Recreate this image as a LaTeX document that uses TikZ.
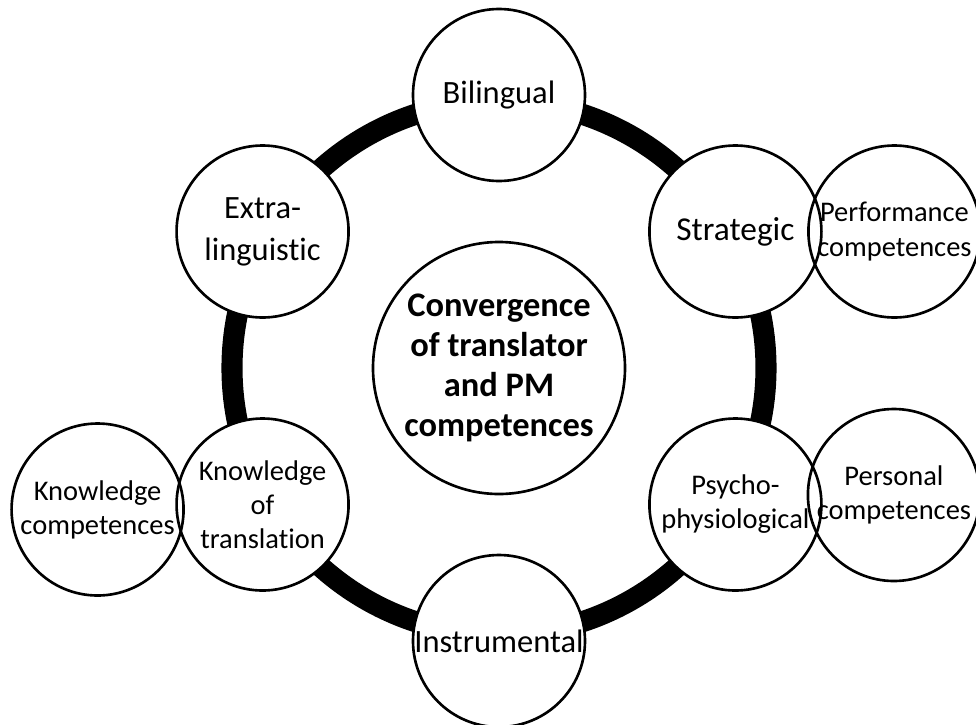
\documentclass[tikz,border=0pt]{standalone}
\usepackage{fontspec}
\setmainfont{Carlito}[Ligatures={NoCommon,NoContextual}]
\usetikzlibrary{positioning}

\begin{document}
\begin{tikzpicture}[
    anillo/.style={line width=12pt},
    comp/.style={circle, draw, line width=1.5pt, fill=white, inner sep=0pt, outer sep=0pt,
                 minimum size=3.44cm, align=center, font=\fontsize{18.5pt}{24pt}\selectfont},
    compchica/.style={comp, font=\fontsize{16.2pt}{19.4pt}\selectfont},
    externa/.style={compchica, fill=none}
]
\useasboundingbox (-9.98,-7.12) rectangle (9.54,7.36);

% Anillo
\draw[anillo] (0,0) circle (5.34);

% Circulo central
\node[circle, draw, line width=1.5pt, fill=white, inner sep=0pt, minimum size=5.04cm, align=center,
      font=\bfseries\fontsize{19.6pt}{22.8pt}\selectfont] (conv) at (0,0)
      {Convergence\\of translator\\and PM\\competences};

% Competencias sobre el anillo
\node[comp] (bil) at (90:5.46) {Bilingual};
\node[comp, font=\fontsize{19pt}{24pt}\selectfont] (estr) at (30:5.46) {Strategic};
\node[comp] (extra) at (150:5.46) {Extra-\\linguistic};
\node[compchica] (trad) at (210:5.46) {Knowledge\\of\\translation};
\node[compchica] (psico) at (330:5.46) {Psycho-\\physiological};
\node[comp] (instr) at (270:5.46) {Instrumental};

% Competencias externas
\node[externa, right=-0.26cm of estr] (desemp) {Performance\\competences};
\node[externa, right=-0.27cm of psico, yshift=0.19cm] (pers) {Personal\\competences};
\node[externa, left=-0.14cm of trad, yshift=-0.1cm] (conoc) {Knowledge\\competences};
\end{tikzpicture}
\end{document}
